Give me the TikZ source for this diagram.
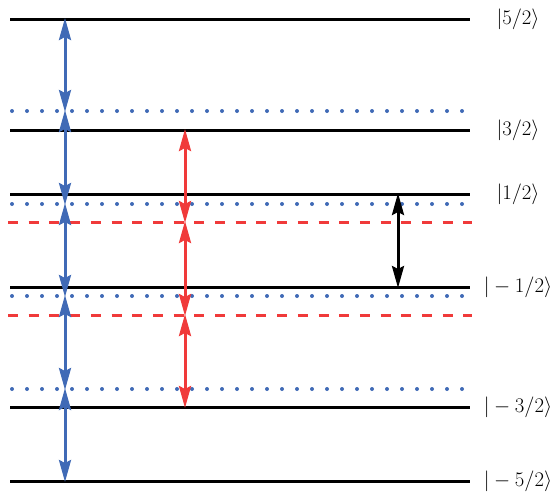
\documentclass[tikz,border=0pt]{standalone}
\usetikzlibrary{arrows.meta}
\definecolor{myblue}{RGB}{64,106,182}
\definecolor{myred}{RGB}{240,58,58}
\tikzset{
  level/.style={line width=3pt,black},
  dotline/.style={myblue,line width=4pt,line cap=round,dash pattern=on 0pt off 15pt},
  dashline/.style={myred,line width=3pt,dash pattern=on 10pt off 10.7pt},
  tip/.style={Stealth[length=22pt,width=12pt,inset=3pt]},
  barrow/.style={myblue,line width=3pt,{Stealth[length=22pt,width=12pt,inset=3pt]}-{Stealth[length=22pt,width=12pt,inset=3pt]},shorten <=-1pt,shorten >=-1pt},
  rarrow/.style={barrow,myred},
  karrow/.style={barrow,black},
  lab/.style={font=\fontsize{21}{25}\selectfont,inner sep=0pt}
}
\begin{document}
\begin{tikzpicture}[x=1pt,y=-1pt]
\useasboundingbox (0,0) rectangle (557,491);
% levels
\foreach \n/\y in {a/19,b/130,c/194,d/287,e/407,f/481}{
  \coordinate (\n L) at (10,\y);
  \coordinate (\n R) at (470,\y);
}
\foreach \n/\y in {p/111,q/204,r/296,s/389}{
  \coordinate (\n L) at (12,\y);
  \coordinate (\n R) at (463,\y);
}
\foreach \n/\y in {u/222,v/315}{
  \coordinate (\n L) at (8,\y);
  \coordinate (\n R) at (472,\y);
}
\foreach \n in {p,q,r,s} \draw[dotline] (\n L) -- (\n R);
\foreach \n in {u,v} \draw[dashline] (\n L) -- (\n R);
\foreach \n in {a,b,c,d,e,f} \draw[level] (\n L) -- (\n R);
% labels
\node[lab] (la) at (518,19) {$|5/2\rangle$};
\node[lab] (lb) at (518,130) {$|3/2\rangle$};
\node[lab] (lc) at (518,194) {$|1/2\rangle$};
\node[lab] (ld) at (518,287) {$|-1/2\rangle$};
\node[lab] (le) at (518,407) {$|-3/2\rangle$};
\node[lab] (lf) at (518,481) {$|-5/2\rangle$};
% arrow endpoints
\coordinate (B1) at (65,19);
\coordinate (B2) at (65,111);
\coordinate (B3) at (65,204);
\coordinate (B4) at (65,296);
\coordinate (B5) at (65,389);
\coordinate (B6) at (65,481);
\draw[barrow] (B1) -- (B2);
\draw[barrow] (B2) -- (B3);
\draw[barrow] (B3) -- (B4);
\draw[barrow] (B4) -- (B5);
\draw[barrow] (B5) -- (B6);
\coordinate (R1) at (185,130);
\coordinate (R2) at (185,222);
\coordinate (R3) at (185,315);
\coordinate (R4) at (185,407);
\draw[rarrow] (R1) -- (R2);
\draw[rarrow] (R2) -- (R3);
\draw[rarrow] (R3) -- (R4);
\coordinate (K1) at (398,194);
\coordinate (K2) at (398,287);
\draw[karrow] (K1) -- (K2);
\end{tikzpicture}
\end{document}
